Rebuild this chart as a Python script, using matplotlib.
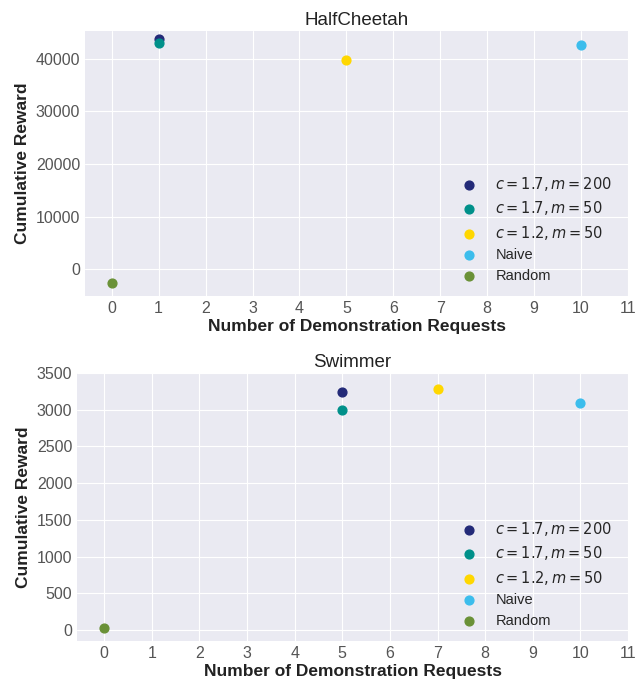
import matplotlib
matplotlib.use("Agg")
import matplotlib.pyplot as plt

plt.style.use("seaborn-v0_8-darkgrid")
plt.rcParams['font.family'] = ['Liberation Sans', 'DejaVu Sans']
plt.rcParams['mathtext.fontset'] = 'dejavusans'

labels = [r"$c = 1.7, m = 200$", r"$c = 1.7, m = 50$", r"$c = 1.2, m = 50$", "Naive", "Random"]
colors = ["#232a78", "#00908a", "#ffd700", "#3cbdec", "#6a9137"]

hc_requests = [1, 1, 5, 10, 0]
hc_rewards = [43700, 43100, 39700, 42600, -2700]

sw_requests = [5, 5, 7, 10, 0]
sw_rewards = [3240, 2990, 3280, 3090, 25]

xticks = list(range(0, 12))

fig = plt.figure(figsize=(6.38, 6.8), dpi=100)
ax1 = fig.add_axes([85/638, 1-296/680, (628-85)/638, (296-31)/680])
ax2 = fig.add_axes([77/638, 1-641/680, (628-77)/638, (641-373)/680])

for ax, xs, ys, title, ylim in [
    (ax1, hc_requests, hc_rewards, "HalfCheetah", (-5100, 45300)),
    (ax2, sw_requests, sw_rewards, "Swimmer", (-150, 3500)),
]:
    for x, y, c, l in zip(xs, ys, colors, labels):
        ax.scatter([x], [y], color=c, label=l, s=40, zorder=3)
    ax.set_title(title, fontsize=13.5, color="#222222", pad=4)
    ax.set_xticks(xticks)
    ax.set_xlim(-0.57, 11.0)
    ax.set_ylim(*ylim)
    ax.tick_params(labelsize=11.5, colors="#555555")
    ax.set_xlabel("Number of Demonstration Requests", fontsize=12.5, fontweight="bold", color="#222222", labelpad=2)
    ax.set_ylabel("Cumulative Reward", fontsize=12.5, fontweight="bold", color="#222222")
    leg = ax.legend(loc="lower right", fontsize=10.5, frameon=False, bbox_to_anchor=(0.995, 0.0), labelspacing=0.45)

ax2.set_yticks([0, 500, 1000, 1500, 2000, 2500, 3000, 3500])

fig.savefig("out.png", dpi=100)
